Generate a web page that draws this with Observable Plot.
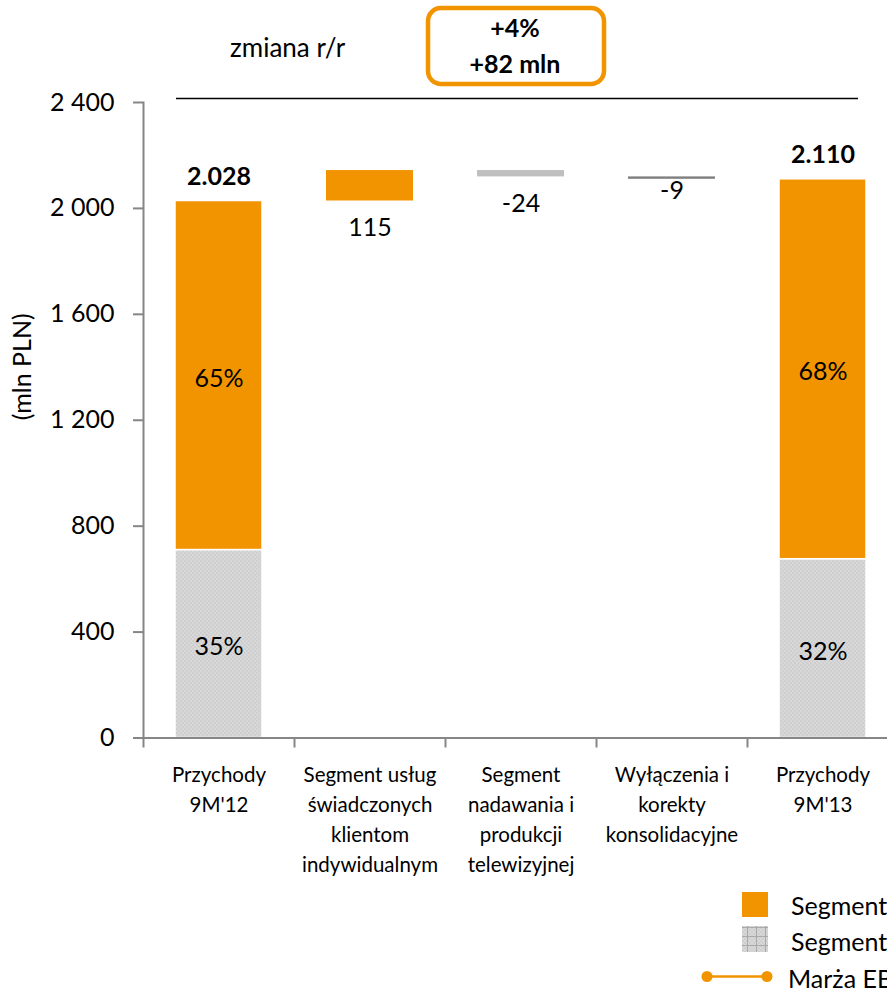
<!DOCTYPE html>
<html lang="pl">
<head>
<meta charset="utf-8">
<script src="https://cdn.jsdelivr.net/npm/d3@7"></script>
<script src="https://cdn.jsdelivr.net/npm/@observablehq/plot@0.6"></script>
<style>
  html, body { margin: 0; padding: 0; background: #fff; }
  #chart { position: relative; width: 887px; height: 992px; overflow: hidden; font-family: Lato, "Open Sans", sans-serif; color: #000; }
  #plot { position: absolute; left: 0; top: 0; width: 900px; }
  #overlay { position: absolute; left: 0; top: 0; }
</style>
</head>
<body>
<svg width="0" height="0" style="position:absolute">
  <defs>
    <pattern id="fineCheck" width="4" height="4" patternUnits="userSpaceOnUse">
      <rect width="4" height="4" fill="#d8d8d8"></rect>
      <rect width="2" height="2" fill="#cfcfcf"></rect>
      <rect x="2" y="2" width="2" height="2" fill="#cfcfcf"></rect>
    </pattern>
    <pattern id="smallGrid" width="9" height="9" patternUnits="userSpaceOnUse">
      <rect width="9" height="9" fill="url(#fineCheck)"></rect>
      <path d="M0 0.5H9M0.5 0V9" stroke="#aaaaaa" stroke-width="1"></path>
    </pattern>
  </defs>
</svg>
<div id="chart">
  <div id="plot"></div>
  <svg id="overlay" width="887" height="992"></svg>
</div>
<script>
// Revenue bridge 9M'12 -> 9M'13 (mln PLN)
const categories = [
  "Przychody\n9M'12",
  "Segment usług\nświadczonych\nklientom\nindywidualnym",
  "Segment\nnadawania i\nprodukcji\ntelewizyjnej",
  "Wyłączenia i\nkorekty\nkonsolidacyjne",
  "Przychody\n9M'13"
];
const revenueStart = 2028;
const revenueEnd = 2110;
// segment shares of revenue, in %: [broadcasting & TV production, individual-client services]
const sharesStart = [35, 65];
const sharesEnd = [32, 68];
// year-on-year contributions of the bridge steps
const changes = [115, -24, -9];
const yTicks = [0, 400, 800, 1200, 1600, 2000, 2400];
const legendLabels = [
  "Segment usług świadczonych klientom indywidualnym",
  "Segment nadawania i produkcji telewizyjnej",
  "Marża EBITDA"
];

const ORANGE = "#f29400";
const changeFills = [ORANGE, "#bfbfbf", "#7f7f7f"];

const plLocale = d3.formatLocale({decimal: ",", thousands: "\u00a0", grouping: [3]});
const tickFmt = plLocale.format(",");
const totalFmt = d3.formatLocale({decimal: ",", thousands: ".", grouping: [3]}).format(",");

// stacked segments of the two revenue columns
function stackRows(cat, total, shares) {
  const low = total * shares[0] / 100;
  return [
    {cat, y1: 0, y2: low, seg: "tv", label: shares[0] + "%"},
    {cat, y1: low, y2: total, seg: "retail", label: shares[1] + "%"}
  ];
}
const stacked = [
  ...stackRows(categories[0], revenueStart, sharesStart),
  ...stackRows(categories[4], revenueEnd, sharesEnd)
];
const totals = [
  {cat: categories[0], value: revenueStart},
  {cat: categories[4], value: revenueEnd}
];

// floating steps between the two totals
let level = revenueStart;
const steps = changes.map((delta, i) => {
  const row = {cat: categories[i + 1], y1: level, y2: level + delta, delta};
  level += delta;
  return row;
});

const marginLeft = 143, marginRight = 2, plotWidth = 900;
const step = (plotWidth - marginLeft - marginRight) / categories.length;

const chart = Plot.plot({
  width: plotWidth,
  height: 880,
  marginTop: 102,
  marginBottom: 142.5,
  marginLeft,
  marginRight,
  style: {fontFamily: "Lato, 'Open Sans', sans-serif", fontSize: "25px", background: "transparent", maxWidth: "none", color: "#000"},
  x: {domain: categories, paddingInner: 0.424, paddingOuter: 0.212, axis: null},
  y: {domain: [0, 2400], axis: null},
  marks: [
    Plot.barY(stacked, {
      x: "cat", y1: "y1", y2: "y2",
      fill: d => d.seg === "tv" ? "url(#fineCheck)" : ORANGE,
      stroke: "white", strokeWidth: 1.5
    }),
    Plot.barY(steps, {x: "cat", y1: "y1", y2: "y2", fill: (d, i) => changeFills[i]}),
    Plot.text(stacked, {x: "cat", y: d => (d.y1 + d.y2) / 2, text: "label", fontSize: 25, dy: 3}),
    Plot.text(totals, {x: "cat", y: "value", text: d => totalFmt(d.value), fontWeight: "bold", fontSize: 25, lineAnchor: "bottom", dy: -16}),
    Plot.text(steps, {filter: (d, i) => i < 2, x: "cat", y: d => Math.min(d.y1, d.y2), text: d => String(d.delta), fontSize: 25, lineAnchor: "top", dy: 17}),
    Plot.text(steps, {filter: (d, i) => i === 2, x: "cat", y: d => Math.min(d.y1, d.y2), text: d => String(d.delta), fontSize: 25, lineAnchor: "top", dy: 2}),
    Plot.ruleY([0], {stroke: "#868686", strokeWidth: 2}),
    Plot.frame({anchor: "left", stroke: "#868686", strokeWidth: 2}),
    Plot.axisY({ticks: yTicks, tickFormat: tickFmt, tickSize: 10, tickPadding: 19, fontSize: 25, stroke: "#868686", strokeWidth: 2, label: null}),
    Plot.axisX({tickSize: 10, tickFormat: () => "", dx: -step / 2, stroke: "#868686", strokeWidth: 2, label: null}),
    Plot.axisX({tickSize: 0, tickPadding: 23, fontSize: 20.5, lineHeight: 1.46, label: null}),
    Plot.text(["(mln PLN)"], {frameAnchor: "left", text: d => d, rotate: -90, dx: -121, fontSize: 25})
  ]
});
document.getElementById("plot").appendChild(chart);

// header with the year-on-year change, and the legend
const svg = d3.select("#overlay").style("font-family", "Lato, 'Open Sans', sans-serif");
const diff = revenueEnd - revenueStart;
const pct = Math.round(diff / revenueStart * 100);

svg.append("text").attr("x", 230).attr("y", 57).attr("font-size", 26).text("zmiana r/r");
svg.append("rect").attr("x", 428).attr("y", 8).attr("width", 176).attr("height", 76).attr("rx", 13)
  .attr("fill", "none").attr("stroke", ORANGE).attr("stroke-width", 4.5);
svg.append("text").attr("x", 515).attr("y", 37).attr("text-anchor", "middle").attr("font-size", 25).attr("font-weight", "bold")
  .text((pct >= 0 ? "+" : "") + pct + "%");
svg.append("text").attr("x", 515).attr("y", 73).attr("text-anchor", "middle").attr("font-size", 25).attr("font-weight", "bold")
  .text((diff >= 0 ? "+" : "") + diff + " mln");
svg.append("line").attr("x1", 176).attr("x2", 858).attr("y1", 98.5).attr("y2", 98.5).attr("stroke", "#000").attr("stroke-width", 1.5);

const lg = svg.append("g").attr("font-size", 25);
lg.append("rect").attr("x", 742).attr("y", 892).attr("width", 26).attr("height", 25).attr("fill", ORANGE);
lg.append("rect").attr("x", 742).attr("y", 926).attr("width", 26).attr("height", 26).attr("fill", "url(#smallGrid)");
lg.append("line").attr("x1", 707).attr("x2", 767).attr("y1", 976.5).attr("y2", 976.5).attr("stroke", ORANGE).attr("stroke-width", 2.5);
lg.selectAll("circle").data([707, 767]).join("circle").attr("cx", d => d).attr("cy", 976.5).attr("r", 5.5).attr("fill", ORANGE);
lg.selectAll("text").data(legendLabels).join("text")
  .attr("x", (d, i) => i === 2 ? 788 : 791)
  .attr("y", (d, i) => [915, 951, 988][i])
  .text(d => d);
</script>
</body>
</html>
